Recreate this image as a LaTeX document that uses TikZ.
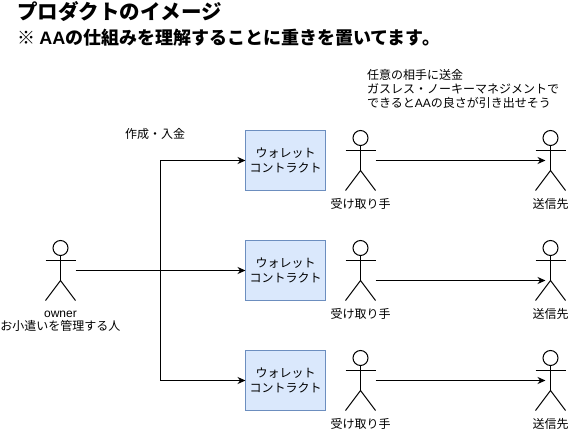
\documentclass[tikz,border=0pt]{standalone}
\usepackage{fontspec}
\setmainfont{Noto Sans CJK JP}
\newfontfamily\latinf{Liberation Sans}
\usetikzlibrary{arrows.meta}
\definecolor{wfill}{HTML}{DAE8FC}
\definecolor{wline}{HTML}{6C8EBF}
\tikzset{
  actorbox/.style={minimum width=30pt,minimum height=60pt,inner sep=0pt,outer sep=0pt},
  wallet/.style={draw=wline,line width=1pt,fill=wfill,minimum width=80pt,minimum height=60pt,inner sep=0pt,outer sep=0pt,align=center,font=\fontsize{12}{15}\selectfont},
  lbl/.style={inner sep=0pt,outer sep=0pt,font=\fontsize{12}{14}\selectfont,align=center},
  conn/.style={line width=1pt,draw=black,-{Stealth[length=8pt,width=7pt]}},
  plainconn/.style={line width=1pt,draw=black},
  actorline/.style={line width=1pt,draw=black}
}
\newcommand{\actorfig}[1]{%
  \draw[actorline] ([yshift=-7.5pt]#1.north) circle (7.5pt);
  \draw[actorline] ([yshift=-15pt]#1.north) -- ([yshift=-40pt]#1.north);
  \draw[actorline] ([yshift=-20pt]#1.north west) -- ([yshift=-20pt]#1.north east);
  \draw[actorline] (#1.south west) -- ([yshift=-40pt]#1.north) -- (#1.south east);
}
\begin{document}
\begin{tikzpicture}[x=1pt,y=-1pt]
\useasboundingbox (0,0) rectangle (576,431);
\node[anchor=west,inner sep=0pt,font=\fontsize{20.5}{24}\bfseries\selectfont] (t1) at (17,11.5) {プロダクトのイメージ};
\node[anchor=west,inner sep=0pt,font=\fontsize{18}{22}\bfseries\selectfont] (t2) at (17,38) {※ {\latinf AA}の仕組みを理解することに重きを置いてます。};
\node[anchor=north west,inner sep=0pt,align=left,font=\fontsize{12}{14}\selectfont] (note) at (367,69) {任意の相手に送金\\ガスレス・ノーキーマネジメントで\\できると{\latinf AA}の良さが引き出せそう};
\node[lbl] (make) at (155,134) {作成・入金};

\node[actorbox] (owner) at (60.5,270.5) {};
\actorfig{owner}
\node[lbl,anchor=center,font=\fontsize{12}{13}\selectfont] (ownerl) at (60.5,321.5) {{\latinf owner}\\お小遣いを管理する人};

\foreach \n/\y in {a/160.5,b/270.5,c/380.5}{
  \node[wallet] (w\n) at (285.5,\y) {ウォレット\\コントラクト};
  \node[actorbox] (r\n) at (360.5,\y) {};
  \node[actorbox] (s\n) at (550.5,\y) {};
  \actorfig{r\n}
  \actorfig{s\n}
  \node[lbl] (rl\n) at (360.5,\y+43) {受け取り手};
  \node[lbl] (sl\n) at (550.5,\y+43) {送信先};
}
\coordinate (jn) at (160.5,270.5);
\draw[plainconn] (owner.east) -- (jn);
\draw[conn] (jn) |- (wa.west);
\draw[conn] (jn) -- (wb.west);
\draw[conn] (jn) |- (wc.west);
\draw[conn] (ra.east) -- ([xshift=10pt]sa.west);
\draw[conn] ([yshift=-10pt]rb.east) -- ([xshift=10pt,yshift=-10pt]sb.west);
\draw[conn] (rc.east) -- ([xshift=10pt]sc.west);
\end{tikzpicture}
\end{document}
